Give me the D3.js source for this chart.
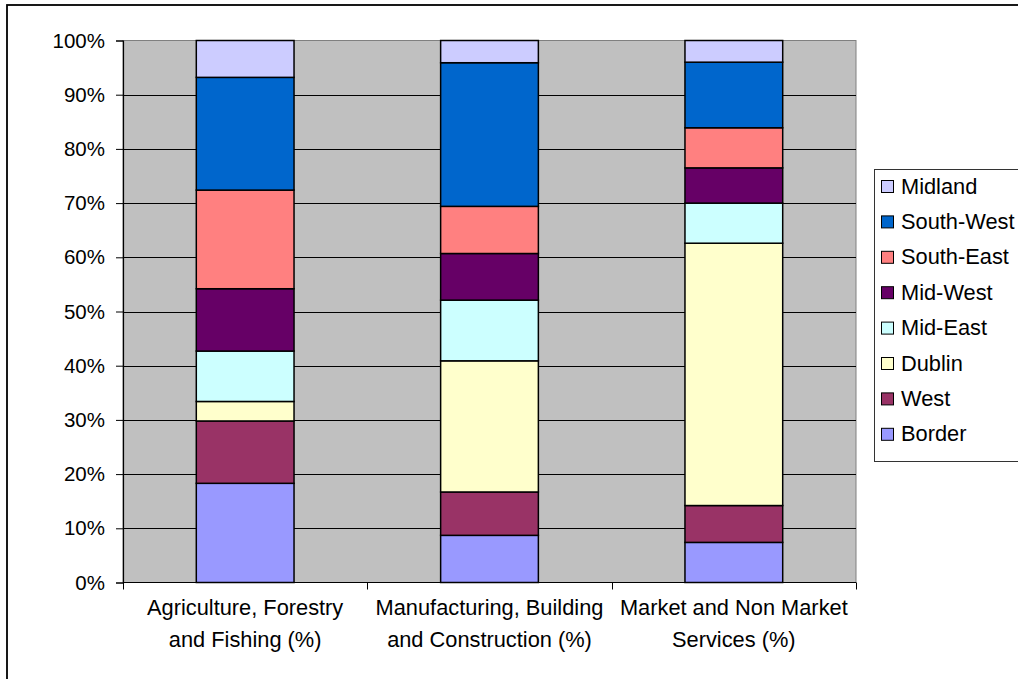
<!DOCTYPE html>
<html><head><meta charset="utf-8">
<script src="https://cdn.jsdelivr.net/npm/d3@7"></script>
<style>
html,body{margin:0;padding:0;background:#fff;overflow:hidden;}
svg{display:block;font-family:"Liberation Sans",Arial,sans-serif;}
</style></head>
<body>
<svg id="chart" width="1018" height="679"></svg>
<script>
const categories = [
  ["Agriculture, Forestry", "and Fishing (%)"],
  ["Manufacturing, Building", "and Construction (%)"],
  ["Market and Non Market", "Services (%)"]
];
const categoryKeys = ["agri", "manu", "serv"];
const regions = ["Border", "West", "Dublin", "Mid-East", "Mid-West", "South-East", "South-West", "Midland"];
const colors = ["#9999FF", "#993366", "#FFFFCC", "#CCFFFF", "#660066", "#FF8080", "#0066CC", "#CCCCFF"];
// percentage share of each region within each sector (stack order bottom -> top)
const agriValues = [18.3, 11.5, 3.6, 9.3, 11.5, 18.2, 20.8, 6.8];
const manuValues = [8.7, 8.0, 24.2, 11.2, 8.6, 8.7, 26.5, 4.1];
const servValues = [7.4, 6.8, 48.4, 7.4, 6.5, 7.4, 12.1, 4.0];
const yTicks = [0, 10, 20, 30, 40, 50, 60, 70, 80, 90, 100];

const svg = d3.select("#chart");
const tickFont = 20.5;
const labelFont = 21.8;

// outer chart border
svg.append("rect").attr("x", 7).attr("y", 5).attr("width", 1100).attr("height", 750)
  .attr("fill", "#fff").attr("stroke", "#000").attr("stroke-width", 1.8);

const plot = {left: 123, right: 856, top: 40.5, bottom: 582.5};

const x = d3.scaleBand().domain(categoryKeys).range([plot.left, plot.right])
  .paddingInner(0.6).paddingOuter(0.3);
const y = d3.scaleLinear().domain([0, 100]).range([plot.bottom, plot.top]);

// plot background
svg.append("rect").attr("x", plot.left).attr("y", plot.top)
  .attr("width", plot.right - plot.left).attr("height", plot.bottom - plot.top)
  .attr("fill", "#C0C0C0").attr("stroke", "#808080").attr("stroke-width", 1);

// gridlines
svg.append("g").selectAll("line").data(yTicks.filter(t => t > 0 && t < 100)).join("line")
  .attr("x1", plot.left).attr("x2", plot.right)
  .attr("y1", d => Math.round(y(d)) + 0.5).attr("y2", d => Math.round(y(d)) + 0.5)
  .attr("stroke", "#000").attr("stroke-width", 1);

// stacked data
const table = regions.map((r, i) => ({region: r, agri: agriValues[i], manu: manuValues[i], serv: servValues[i]}));
const rows = categoryKeys.map(k => {
  const o = {key: k};
  regions.forEach((r, i) => { o[r] = table[i][k]; });
  return o;
});
const series = d3.stack().keys(regions)(rows);

svg.append("g").selectAll("g").data(series).join("g")
  .attr("fill", (d, i) => colors[i])
  .selectAll("rect").data(d => d).join("rect")
  .attr("x", d => x(d.data.key))
  .attr("width", x.bandwidth())
  .attr("y", d => y(d[1]))
  .attr("height", d => y(d[0]) - y(d[1]))
  .attr("stroke", "#000").attr("stroke-width", 1.5);

// y axis
const yAxis = svg.append("g").attr("transform", `translate(${plot.left},0)`)
  .call(d3.axisLeft(y).tickValues(yTicks).tickFormat(d => d + "%").tickSize(7).tickPadding(11));
yAxis.select(".domain").attr("stroke", "#000").attr("stroke-width", 1.2);
yAxis.selectAll(".tick line").attr("stroke", "#000");
yAxis.selectAll("text").attr("font-size", tickFont).attr("fill", "#000")
  .attr("font-family", "'Liberation Sans', Arial, sans-serif");

// x axis
const xAxisG = svg.append("g");
xAxisG.append("line").attr("x1", plot.left).attr("x2", plot.right)
  .attr("y1", plot.bottom).attr("y2", plot.bottom).attr("stroke", "#000").attr("stroke-width", 1.2);
const step = x.step();
const boundaries = d3.range(categoryKeys.length + 1).map(i => plot.left + i * step);
xAxisG.selectAll("line.tk").data(boundaries).join("line").attr("class", "tk")
  .attr("x1", d => Math.round(d) + 0.5).attr("x2", d => Math.round(d) + 0.5)
  .attr("y1", plot.bottom).attr("y2", plot.bottom + 7).attr("stroke", "#000");

const labels = xAxisG.selectAll("text.cat").data(categoryKeys).join("text").attr("class", "cat")
  .attr("text-anchor", "middle").attr("font-size", labelFont).attr("fill", "#000");
labels.each(function(k, i) {
  const t = d3.select(this);
  const cx = x(k) + x.bandwidth() / 2;
  categories[i].forEach((line, j) => {
    t.append("tspan").attr("x", cx).attr("y", 614.5 + j * 32.3).text(line);
  });
});

// legend
const legend = svg.append("g");
legend.append("rect").attr("x", 874.5).attr("y", 169.5).attr("width", 200).attr("height", 292)
  .attr("fill", "#fff").attr("stroke", "#333").attr("stroke-width", 1);
const legendOrder = regions.map((r, i) => i).reverse();
const li = legend.selectAll("g.item").data(legendOrder).join("g").attr("class", "item")
  .attr("transform", (d, j) => `translate(0,${186 + j * 35.4})`);
li.append("rect").attr("x", 881.5).attr("y", -5.5).attr("width", 12).attr("height", 12)
  .attr("fill", d => colors[d]).attr("stroke", "#000").attr("stroke-width", 1);
li.append("text").attr("x", 901).attr("y", 0).attr("dy", "0.35em")
  .attr("font-size", labelFont).attr("fill", "#000").text(d => regions[d]);
</script>
</body></html>
